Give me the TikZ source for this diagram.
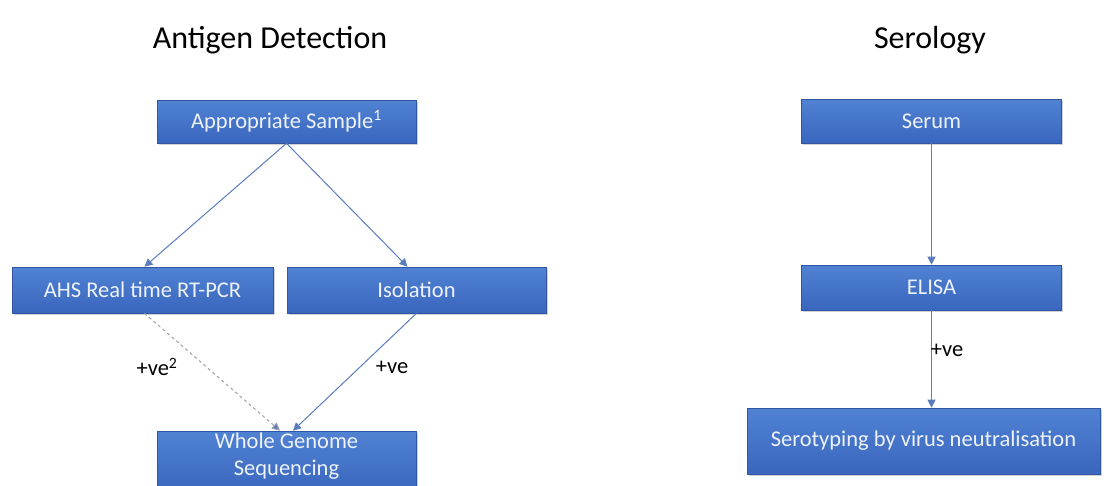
\documentclass[tikz,border=0pt]{standalone}
\usepackage{fontspec}
\setmainfont{Carlito}
\usetikzlibrary{arrows.meta,shadows}
\definecolor{boxtop}{HTML}{5082D2}
\definecolor{boxbot}{HTML}{3A66BE}
\definecolor{boxedge}{HTML}{2F55A4}
\definecolor{arrowc}{HTML}{5A7DBE}
\definecolor{dashc}{HTML}{9AA0AA}
\definecolor{btext}{HTML}{EEF2FA}
\tikzset{
  x=1pt,y=-1pt,
  box/.style={draw=boxedge, line width=0.6pt, top color=boxtop, bottom color=boxbot,
    text=btext, font=\fontsize{22.5}{27}\selectfont, align=center, inner sep=0pt,
    drop shadow={shadow xshift=1.5pt, shadow yshift=-2pt, opacity=0.35, fill=gray}},
  boxtext/.style={text=btext, font=\fontsize{22.5}{27}\selectfont, align=center, inner sep=0pt},
  conn/.style={draw=arrowc, line width=1pt, -{Triangle[width=8pt,length=8pt]}},
  dconn/.style={draw=dashc, line width=1pt, dashed, -{Triangle[width=8pt,length=8pt,fill=arrowc]}},
  title/.style={font=\fontsize{32}{36}\selectfont, text=black},
  lbl/.style={font=\fontsize{22.5}{27}\selectfont, text=black}
}
\begin{document}
\begin{tikzpicture}
\useasboundingbox (0,0) rectangle (1107,485);
\fill[white] (0,0) rectangle (1107,485);
\node[title] (t1) at (270,40) {Antigen Detection};
\node[title] (t2) at (930,40) {Serology};

\node[box, minimum width=259pt, minimum height=43pt] (as) at (286.5,121.5) {Appropriate Sample\textsuperscript{1}};
\node[box, minimum width=261pt, minimum height=46pt] (ahs) at (142.5,290) {AHS Real time RT-PCR};
\node[box, minimum width=259pt, minimum height=46pt] (iso) at (416.5,290) {Isolation};
\node[box, minimum width=259pt, minimum height=62pt] (wgs) at (286.5,462) {};
\node[boxtext] (wgst) at ([yshift=6pt]wgs.center) {Whole Genome\\Sequencing};

\node[box, minimum width=260pt, minimum height=44pt] (ser) at (931.5,121) {Serum};
\node[box, minimum width=260pt, minimum height=45pt] (eli) at (931.5,287.5) {ELISA};
\node[box, minimum width=353pt, minimum height=66pt] (sty) at (923.5,441) {Serotyping by virus neutralisation};

\draw[conn] (as.south) -- ([xshift=2pt]ahs.north);
\draw[conn] (as.south) -- ([xshift=-9pt]iso.north);
\draw[dconn] ([xshift=2pt]ahs.south) -- ([xshift=-6.5pt]wgs.north);
\draw[conn] (iso.south) -- ([xshift=6.5pt]wgs.north);
\draw[conn] (ser.south) -- (eli.north);
\draw[conn] (eli.south) -- (sty.north -| eli.south);

\node[lbl] (l1) at (157,367) {+ve\textsuperscript{2}};
\node[lbl] (l2) at (392,367) {+ve};
\node[lbl] (l3) at (947,350) {+ve};
\end{tikzpicture}
\end{document}
